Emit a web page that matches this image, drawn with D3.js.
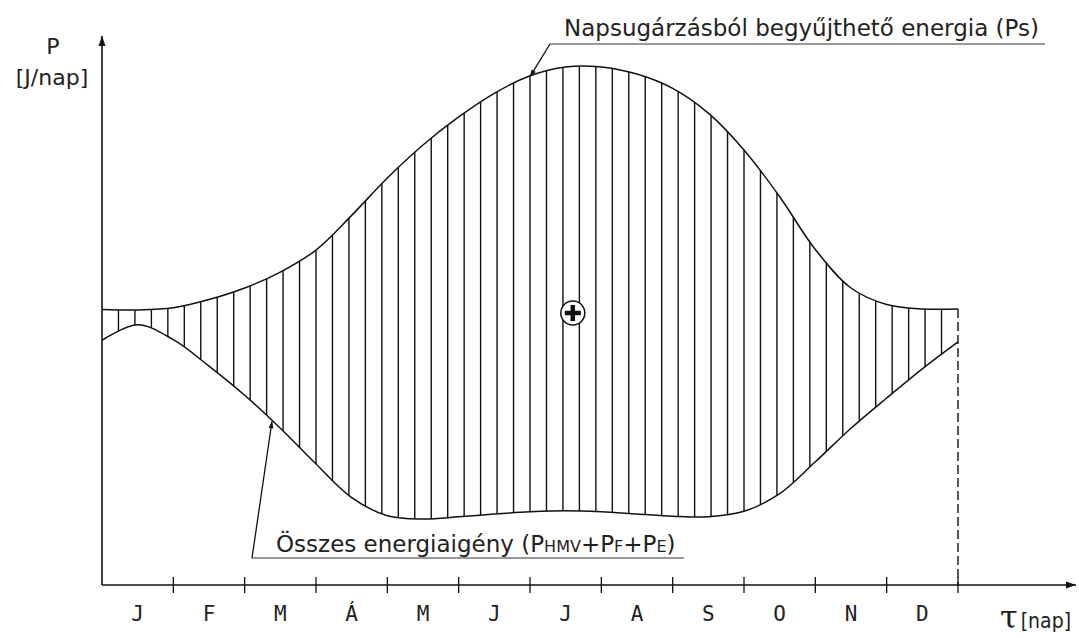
<!DOCTYPE html>
<html>
<head>
<meta charset="utf-8">
<script src="https://cdn.jsdelivr.net/npm/d3@7"></script>
<style>
  html, body { margin: 0; padding: 0; background: #fff; }
  svg { display: block; }
  text { fill: #222; }
</style>
</head>
<body>
<svg width="1079" height="638"></svg>
<script>
// hónapok (x tengely)
const months = ["J", "F", "M", "Á", "M", "J", "J", "A", "S", "O", "N", "D"];

// napsugárzásból begyűjthető energia (felső görbe), x hónapban
const solarX = [0, 0.5, 1, 1.5, 2, 2.5, 3, 3.5, 4, 4.5, 5, 5.5, 6, 6.5, 7, 7.5, 8, 8.5, 9, 9.5, 10, 10.5, 11, 11.5, 12];
const solarY = [50.1, 50, 50.4, 51.9, 54, 56.9, 60.9, 67.2, 74, 80, 85.1, 89.4, 92.6, 94.2, 94.2, 92.9, 90.3, 85.8, 79.1, 70.6, 61, 54, 51, 50.2, 50.2];

// összes energiaigény (alsó görbe)
const demandX = [0, 0.5, 1, 1.5, 2, 2.5, 3, 3.5, 4, 4.5, 5, 5.5, 6, 6.5, 7, 7.5, 8, 8.5, 9, 9.5, 10, 10.5, 11, 11.5, 12];
const demandY = [44.5, 47.3, 44.6, 39.8, 34.5, 28.5, 22, 15.9, 12.6, 12, 12.4, 12.9, 13.3, 13.5, 13.3, 12.9, 12.5, 12.4, 13.4, 16.6, 22.4, 28.5, 34, 39.3, 44.2];

const hatchCount = 52; // függőleges vonalkázás sűrűsége

const svg = d3.select("svg");

// skálák
const x = d3.scaleLinear().domain([0, 12]).range([102, 958]);
const y = d3.scaleLinear().domain([0, 100]).range([585, 35]);

// nyílhegy
const defs = svg.append("defs");
defs.append("marker")
  .attr("id", "arrow")
  .attr("viewBox", "0 0 10 10")
  .attr("refX", 10).attr("refY", 5)
  .attr("markerWidth", 14).attr("markerHeight", 10)
  .attr("markerUnits", "userSpaceOnUse")
  .attr("orient", "auto")
  .append("path").attr("d", "M0,1.5 L10,5 L0,8.5 Z").attr("fill", "#111");

defs.append("marker")
  .attr("id", "arrowSmall")
  .attr("viewBox", "0 0 10 10")
  .attr("refX", 10).attr("refY", 5)
  .attr("markerWidth", 10).attr("markerHeight", 7)
  .attr("markerUnits", "userSpaceOnUse")
  .attr("orient", "auto")
  .append("path").attr("d", "M0,1.5 L10,5 L0,8.5 Z").attr("fill", "#111");

const line = d3.line()
  .x(d => x(d[0]))
  .y(d => y(d[1]))
  .curve(d3.curveCatmullRom.alpha(0.5));

const solar = solarX.map((v, i) => [v, solarY[i]]);
const demand = demandX.map((v, i) => [v, demandY[i]]);

const upper = svg.append("path").attr("d", line(solar))
  .attr("fill", "none").attr("stroke", "#111").attr("stroke-width", 1.5);
const lower = svg.append("path").attr("d", line(demand))
  .attr("fill", "none").attr("stroke", "#111").attr("stroke-width", 1.5);

// görbe y értéke adott pixel x-nél (bináris keresés a path mentén)
function yAt(pathNode, px) {
  const total = pathNode.getTotalLength();
  let lo = 0, hi = total;
  for (let i = 0; i < 40; i++) {
    const mid = (lo + hi) / 2;
    if (pathNode.getPointAtLength(mid).x < px) lo = mid; else hi = mid;
  }
  return pathNode.getPointAtLength((lo + hi) / 2).y;
}

// vonalkázás
const hatch = d3.range(1, hatchCount).map(k => x(12 * k / hatchCount));
svg.append("g").selectAll("line")
  .data(hatch)
  .join("line")
  .attr("x1", d => d).attr("x2", d => d)
  .attr("y1", d => yAt(upper.node(), d))
  .attr("y2", d => yAt(lower.node(), d))
  .attr("stroke", "#111").attr("stroke-width", 1.4);

// szaggatott záró vonal (december vége)
svg.append("line")
  .attr("x1", x(12)).attr("x2", x(12))
  .attr("y1", y(solarY[solarY.length - 1])).attr("y2", y(0))
  .attr("stroke", "#111").attr("stroke-width", 1.4)
  .attr("stroke-dasharray", "9,4");

// tengelyek
svg.append("line")
  .attr("x1", x(0)).attr("x2", x(0))
  .attr("y1", y(0)).attr("y2", 36)
  .attr("stroke", "#111").attr("stroke-width", 1.6)
  .attr("marker-end", "url(#arrow)");

svg.append("line")
  .attr("x1", x(0)).attr("x2", 1076)
  .attr("y1", y(0)).attr("y2", y(0))
  .attr("stroke", "#111").attr("stroke-width", 1.6)
  .attr("marker-end", "url(#arrow)");

// hónap osztások
svg.append("g").selectAll("line")
  .data(d3.range(1, 13))
  .join("line")
  .attr("x1", d => x(d)).attr("x2", d => x(d))
  .attr("y1", y(0) - 8).attr("y2", y(0) + 8)
  .attr("stroke", "#111").attr("stroke-width", 1.3);

svg.append("g").selectAll("text")
  .data(months)
  .join("text")
  .attr("x", (d, i) => x(i + 0.5))
  .attr("y", 621)
  .attr("text-anchor", "middle")
  .style("font-family", "'DejaVu Sans Mono'")
  .style("font-size", "21px")
  .text(d => d);

// tengelyfeliratok
svg.append("text")
  .attr("x", 53).attr("y", 54)
  .attr("text-anchor", "middle")
  .style("font-family", "'DejaVu Sans'")
  .style("font-size", "22px")
  .text("P");
svg.append("text")
  .attr("x", 52).attr("y", 85)
  .attr("text-anchor", "middle")
  .style("font-family", "'DejaVu Sans'")
  .style("font-size", "22px")
  .text("[J/nap]");

const tau = svg.append("text")
  .attr("x", 1000).attr("y", 628)
  .style("font-family", "'DejaVu Serif'");
tau.append("tspan").style("font-size", "32px").text("τ");
tau.append("tspan").attr("dx", 3).style("font-size", "21px")
  .style("font-family", "'DejaVu Sans Condensed'").text("[nap]");

// ⊕ jel
const sym = svg.append("g").attr("transform", `translate(${x(6.6)},313)`);
sym.append("circle").attr("r", 12).attr("fill", "#fff").attr("stroke", "#111").attr("stroke-width", 1.5);
sym.append("path").attr("d", "M-8,0 H8 M0,-8 V8")
  .attr("stroke", "#111").attr("stroke-width", 4.5);

// felső címke
svg.append("text")
  .attr("x", 564).attr("y", 36)
  .style("font-family", "'DejaVu Sans'")
  .style("font-size", "23px")
  .text("Napsugárzásból begyűjthető energia (Ps)");
svg.append("line")
  .attr("x1", 550).attr("x2", 1045).attr("y1", 44).attr("y2", 44)
  .attr("stroke", "#777").attr("stroke-width", 1.4);
svg.append("line")
  .attr("x1", 550).attr("y1", 44)
  .attr("x2", x(6)).attr("y2", yAt(upper.node(), x(6)) + 1)
  .attr("stroke", "#111").attr("stroke-width", 1.3)
  .attr("marker-end", "url(#arrowSmall)");

// alsó címke
const lbl = svg.append("text")
  .attr("x", 276).attr("y", 552)
  .style("font-family", "'DejaVu Sans'")
  .style("font-size", "23px");
lbl.append("tspan").text("Összes energiaigény (P");
lbl.append("tspan").style("font-size", "16px").text("HMV");
lbl.append("tspan").text("+P");
lbl.append("tspan").style("font-size", "16px").text("F");
lbl.append("tspan").text("+P");
lbl.append("tspan").style("font-size", "16px").text("E");
lbl.append("tspan").text(")");
svg.append("line")
  .attr("x1", 252).attr("x2", 684).attr("y1", 558).attr("y2", 558)
  .attr("stroke", "#777").attr("stroke-width", 1.4);
svg.append("line")
  .attr("x1", 252).attr("y1", 558)
  .attr("x2", 272).attr("y2", yAt(lower.node(), 272) + 1)
  .attr("stroke", "#111").attr("stroke-width", 1.3)
  .attr("marker-end", "url(#arrowSmall)");
</script>
</body>
</html>
